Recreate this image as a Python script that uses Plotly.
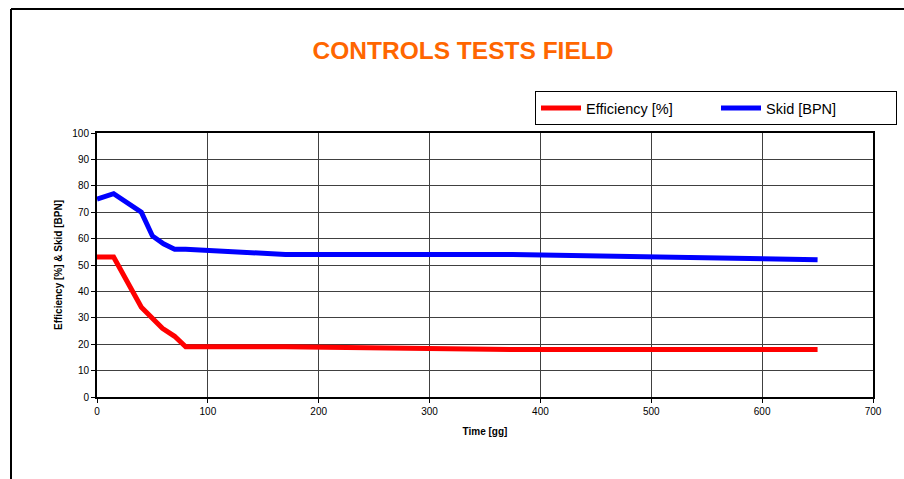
import plotly.graph_objects as go

time_eff = [0, 15, 40, 59, 70, 80, 170, 375, 650]
efficiency = [53, 53, 34, 26, 23, 19, 19, 18, 18]
time_skid = [0, 15, 40, 50, 60, 70, 80, 170, 375, 650]
skid = [75, 77, 70, 61, 58, 56, 56, 54, 54, 52]

W, H = 904, 479
L, R, T, B = 97, 31, 133, 82
pw, ph = W - L - R, H - T - B

def px_x(p):
    return (p - L) / pw

def px_y(p):
    return (H - B - p) / ph

fig = go.Figure()
fig.add_trace(go.Scatter(x=time_eff, y=efficiency, mode="lines", name="Efficiency [%]",
                         line=dict(color="#FF0000", width=5)))
fig.add_trace(go.Scatter(x=time_skid, y=skid, mode="lines", name="Skid [BPN]",
                         line=dict(color="#0000FF", width=5)))

axis_font = dict(family="Liberation Sans, Arial, sans-serif", size=10, color="black")
fig.update_layout(
    width=W, height=H,
    margin=dict(l=L, r=R, t=T, b=B, pad=0, autoexpand=False),
    paper_bgcolor="white", plot_bgcolor="white",
    title=dict(text="<b>CONTROLS TESTS FIELD</b>", x=463 / W, xanchor="center",
               y=1 - 50 / H, yanchor="middle",
               font=dict(family="Liberation Sans, Arial, sans-serif", size=24.5, color="#FF6600")),
    legend=dict(orientation="h", x=px_x(535), y=px_y(91), xanchor="left", yanchor="top",
                bordercolor="black", borderwidth=1, bgcolor="white",
                font=dict(family="Liberation Sans, Arial, sans-serif", size=14.5, color="black"),
                entrywidth=125, itemwidth=40),
    xaxis=dict(range=[0, 700], dtick=100, tick0=0, showgrid=True, gridcolor="#404040", gridwidth=1,
               showline=True, linecolor="black", linewidth=2, mirror=True,
               ticks="outside", ticklen=4, tickcolor="black", tickfont=axis_font, zeroline=False,
               title=dict(text="<b>Time [gg]</b>", font=axis_font, standoff=12)),
    yaxis=dict(range=[0, 100], dtick=10, tick0=0, showgrid=True, gridcolor="#404040", gridwidth=1,
               showline=True, linecolor="black", linewidth=2, mirror=True,
               ticks="outside", ticklen=4, tickcolor="black", tickfont=axis_font, zeroline=False,
               title=dict(text="<b>Efficiency [%] & Skid [BPN]</b>", font=axis_font, standoff=8)),
    shapes=[
        dict(type="line", xref="paper", yref="paper", x0=px_x(11), x1=px_x(11), y0=px_y(9), y1=px_y(H + 5),
             line=dict(color="black", width=2)),
        dict(type="line", xref="paper", yref="paper", x0=px_x(11), x1=px_x(W + 5), y0=px_y(9), y1=px_y(9),
             line=dict(color="black", width=2)),
    ],
)

fig.write_html("out.html")
